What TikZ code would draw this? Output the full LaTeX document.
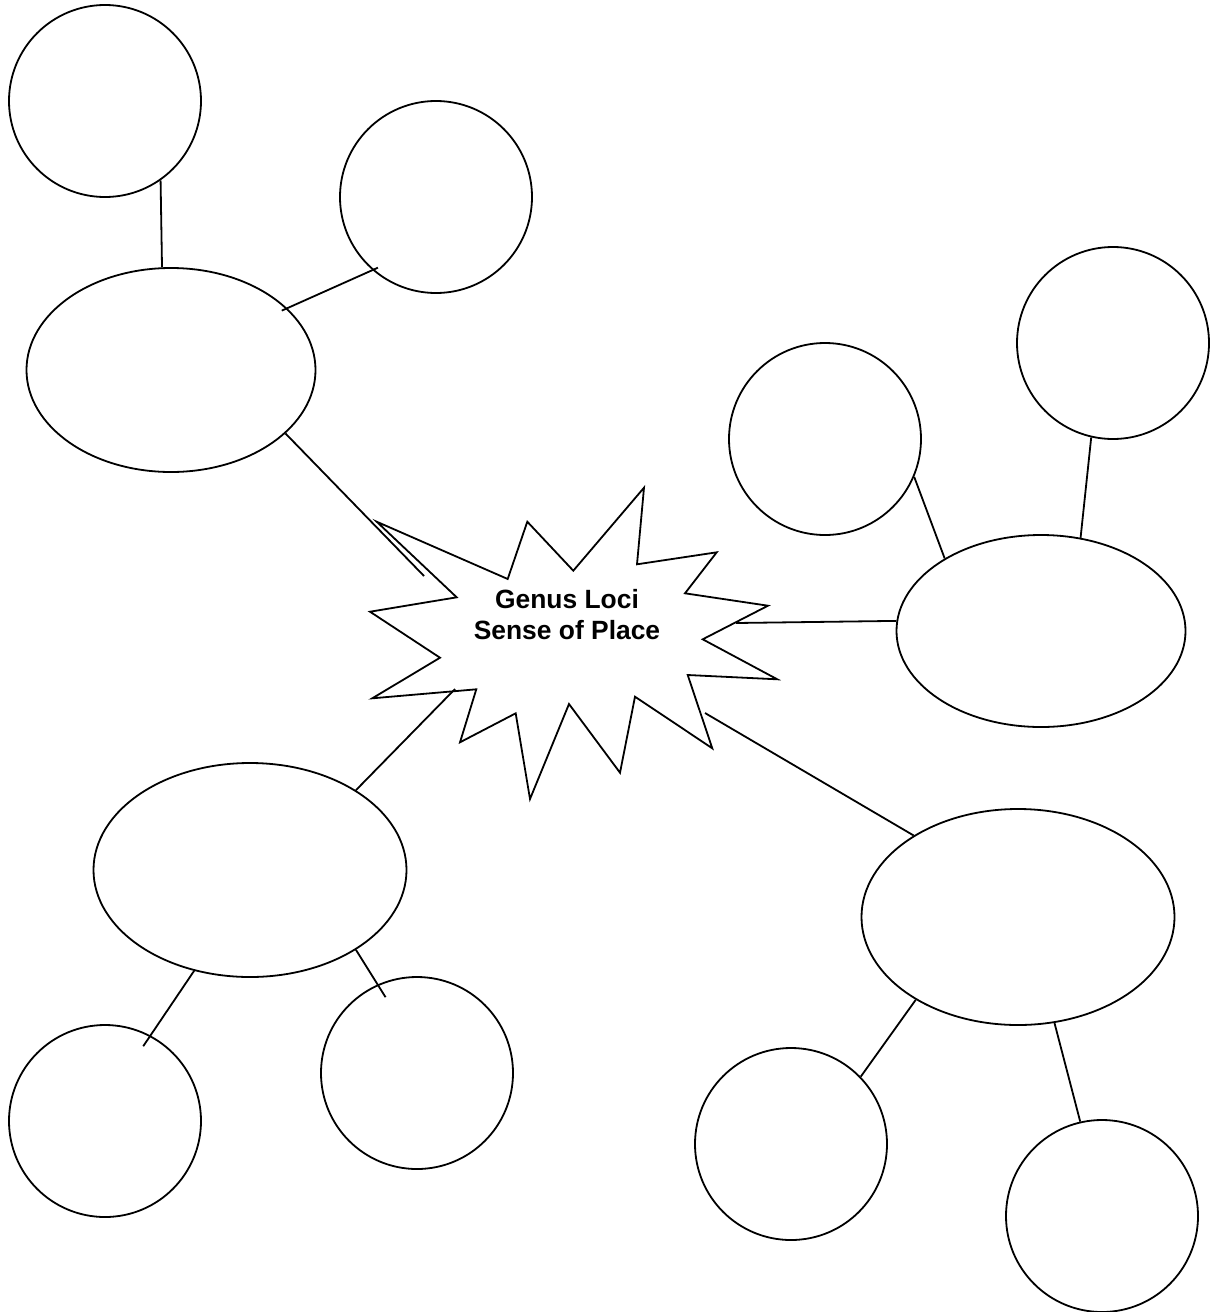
\documentclass[tikz,border=0pt]{standalone}
\usepackage{fontspec}
\setmainfont{Liberation Sans}
\usetikzlibrary{shapes.geometric, positioning}

\begin{document}
\begin{tikzpicture}[x=0.5pt, y=-0.5pt, line width=0.9pt,
		bubble/.style={draw, circle, minimum size=96pt, inner sep=0pt},
		blob/.style={draw, ellipse, inner sep=0pt}]
			\useasboundingbox (0,0) rectangle (1215,1312);
			
			% Draw the burst in the middle
			\draw (376.7,521.7) -- (507.7,579) -- (527.3,521.7) -- (573.3,570.7)
				-- (644,487.7) -- (637,564.3) -- (716.7,552.3) -- (685,593.3)
				-- (768,605.7) -- (702.7,639.3) -- (777.3,679.3) -- (687.7,675)
				-- (712.3,748.3) -- (635,696.7) -- (620,772.7) -- (569,704)
				-- (530,799) -- (515.7,713.3) -- (460,742.3) -- (476.3,689.3)
				-- (372.3,698.3) -- (440,657.7) -- (370,611.7) -- (456.7,597.3) -- cycle;
			\node[font=\bfseries\fontsize{13.2}{15.5}\selectfont, align=center] (S) at (567,615) {Genus Loci\\Sense of Place};
			
			% Ends of the lines at the burst
			\coordinate (S1) at (424,576);
			\coordinate (S2) at (736,623);
			\coordinate (S3) at (705,713);
			\coordinate (S4) at (455,689);
			
			% Draw the ellipses
			\node[blob, minimum width=144.5pt, minimum height=102pt] (E1) at (171,370) {};
			\node[blob, minimum width=144.5pt, minimum height=96pt] (E2) at (1041,631) {};
			\node[blob, minimum width=156.5pt, minimum height=107pt] (E3) at (250,870) {};
			\node[blob, minimum width=156.5pt, minimum height=108pt] (E4) at (1018,917) {};
			
			% Draw the circles
			\node[bubble] (C1) at (105,101) {};
			\node[bubble] (C2) at (436,197) {};
			\node[bubble] (C3) at (1113,343) {};
			\node[bubble] (C4) at (825,439) {};
			\node[bubble] (C5) at (105,1121) {};
			\node[bubble] (C6) at (417,1073) {};
			\node[bubble] (C7) at (791,1144) {};
			\node[bubble] (C8) at (1102,1216) {};
			
			% Lines from the burst to the ellipses
			\draw (E1.-29.1) -- (S1);
			\draw (S2) -- (E2.176.8);
			\draw (S3) -- (E4.142);
			\draw (S4) -- (E3.37.7);
			
			% Lines from the ellipses to the circles
			\draw (C1.-55.7) -- (E1.95.7);
			\draw[shorten <=-3pt, shorten >=-3pt] (C2.-131.5) -- (E1.28);
			\draw (C4.-23.8) -- (E2.143.8);
			\draw (C3.-103.3) -- (E2.67.6);
			\draw[shorten >=-6.5pt] (E3.-119.5) -- (C5.62.9);
			\draw[shorten >=-7.5pt] (E3.-37.5) -- (C6.114.6);
			\draw (E4.-141.6) -- (C7.44.8);
			\draw (E4.-71.1) -- (C8.103.7);
	\end{tikzpicture}
\end{document}
